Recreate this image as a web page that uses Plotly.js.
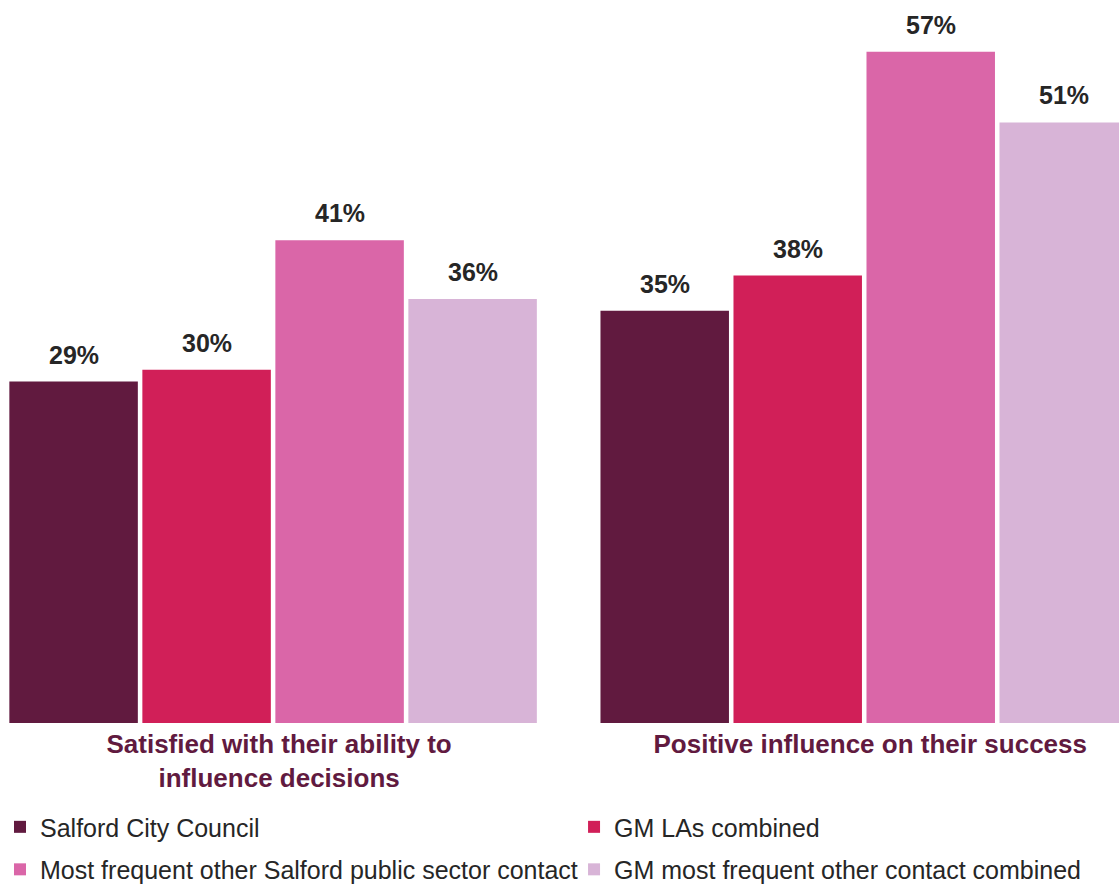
<!DOCTYPE html>
<html>
<head>
<meta charset="utf-8">
<script src="https://cdn.plot.ly/plotly-3.0.1.min.js"></script>
<style>html,body{margin:0;padding:0;background:#fff;}#chart{width:1119px;height:888px;}</style>
</head>
<body>
<div id="chart"></div>
<script>
const categories = ["Satisfied with their ability to<br>influence decisions", "Positive influence on their success"];
const seriesNames = ["Salford City Council", "GM LAs combined", "Most frequent other Salford public sector contact", "GM most frequent other contact combined"];
const salford = [29, 35];
const gmLAs = [30, 38];
const salfordOther = [41, 57];
const gmOther = [36, 51];
const colors = ["#611a3f", "#d11f58", "#da66a8", "#d8b4d7"];

const allSeries = [salford, gmLAs, salfordOther, gmOther];
const legendFor = ['legend', 'legend2', 'legend', 'legend2'];
const bargap = 0.1;
const traces = allSeries.map((vals, i) => ({
  type: 'bar',
  name: seriesNames[i],
  x: categories,
  y: vals,
  marker: {color: colors[i]},
  legend: legendFor[i],
  legendgroup: 'g' + i,
  hoverinfo: 'none'
}));

const annotations = [];
const slot = (1 - bargap) / allSeries.length;
allSeries.forEach((vals, i) => {
  const off = -(1 - bargap) / 2 + slot * (i + 0.5);
  vals.forEach((v, j) => {
    annotations.push({
      x: j + off, y: v, xref: 'x', yref: 'y',
      text: '<b>' + v + '%</b>', showarrow: false,
      yanchor: 'bottom', yshift: 11,
      font: {family: 'Liberation Sans, Arial, sans-serif', size: 25, color: '#262626'}
    });
  });
});

const legendFont = {family: 'Liberation Sans, Arial, sans-serif', size: 25, color: '#262626'};
const layout = {
  width: 1119, height: 888,
  margin: {l: 0, r: 0, t: 0, b: 165},
  paper_bgcolor: '#fff', plot_bgcolor: '#fff',
  barmode: 'group', bargap: bargap, bargroupgap: 0.034,
  xaxis: {
    type: 'category', range: [-0.462, 1.431],
    showline: false, showgrid: false, zeroline: false, ticks: '',
    tickfont: {family: 'Liberation Sans, Arial, sans-serif', size: 26, color: '#611a3f', weight: 'bold'},
    ticklabelstandoff: 3, ticklabelshift: 6
  },
  yaxis: {range: [0, 61.4], visible: false, showgrid: false, zeroline: false},
  showlegend: true,
  legend: {
    orientation: 'v', x: 0, xanchor: 'left', y: 0.0945, yref: 'container', yanchor: 'top',
    font: legendFont, itemwidth: 30, tracegroupgap: 7, bgcolor: 'rgba(0,0,0,0)',
    traceorder: 'grouped', itemclick: false
  },
  legend2: {
    orientation: 'v', x: 0.513, xanchor: 'left', y: 0.0945, yref: 'container', yanchor: 'top',
    font: legendFont, itemwidth: 30, tracegroupgap: 7, bgcolor: 'rgba(0,0,0,0)',
    traceorder: 'grouped', itemclick: false
  },
  annotations: annotations
};

Plotly.newPlot('chart', traces, layout, {displayModeBar: false, staticPlot: true});
</script>
</body>
</html>
